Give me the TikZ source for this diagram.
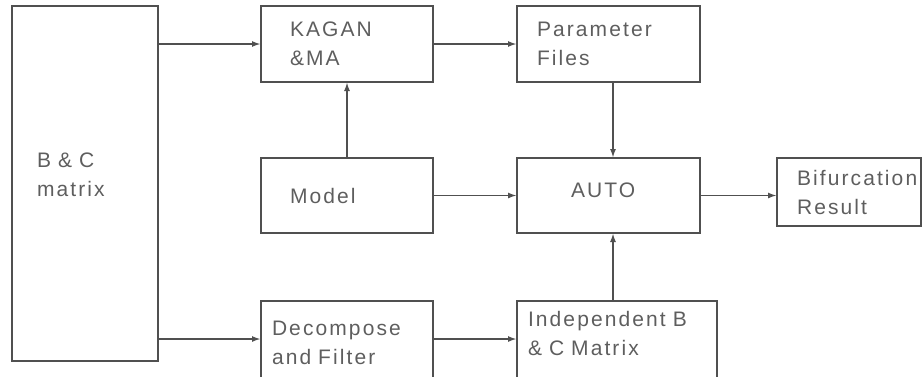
\documentclass[tikz,border=0pt]{standalone}
\usepackage{fontspec}
\setmainfont{Liberation Sans}[LetterSpace=10]
\usetikzlibrary{positioning,arrows.meta}
\definecolor{inkgray}{HTML}{505050}
\definecolor{textgray}{HTML}{5E5E5E}
\tikzset{>={Latex[length=9pt,width=6pt]}}
\hyphenpenalty=10000
\exhyphenpenalty=10000

\begin{document}
\begin{tikzpicture}[x=1pt, y=-1pt,
block/.style = {draw=inkgray, line width=1.4pt, rectangle,
                inner sep=0pt, outer sep=0pt,
                align=left, text=textgray,
                font=\fontsize{21}{29}\selectfont},
flow/.style = {->, draw=inkgray, line width=1.8pt},
upflow/.style = {flow, line width=2.6pt},
node distance = 84pt,
]
\useasboundingbox (0,0) rectangle (923,376);
\clip (0,0) rectangle (923,376);
        \node (bc)     [block, minimum width=146pt, minimum height=355pt,
                        text width=96pt, text depth=46pt] at (85,183.5)
                        {B \& C\\matrix};
        \node (kagan)  [block, minimum width=172pt, minimum height=76pt,
                        text width=114pt] at (347,44) {KAGAN\\\&MA};
        \node (param)  [block, minimum width=183pt, minimum height=76pt,
                        text width=143pt, right=of kagan] {Parameter\\Files};
        % middle row
        \node (model)  [block, minimum width=172pt, minimum height=75pt,
                        text width=114pt, below=76pt of kagan] {Model};
        \node (auto)   [block, minimum width=183pt, minimum height=75pt,
                        text width=75pt, text depth=11pt,
                        right=of model] {AUTO};
        \node (bif)    [block, minimum width=144pt, minimum height=68pt,
                        text width=104pt, right=77pt of auto,
                        yshift=3.5pt] {Bifurcation\\Result};
        % bottom row
        \node (decomp) [block, minimum width=172pt, minimum height=83pt,
                        text width=150pt, below=68pt of model]
                        {Decompose\\and Filter};
        \node (indep)  [block, minimum width=200pt, minimum height=83pt,
                        text width=178pt, text depth=46.5pt,
                        right=of decomp] {Independent B\\\& C Matrix};
        % connectors
        \draw[flow] (bc.east |- kagan.west) -- (kagan.west);
        \draw[flow] (kagan) -- (param);
        \draw[upflow] (model) -- (kagan);
        \draw[upflow] ([xshift=4.5pt]param.south) -- ([xshift=4.5pt]auto.north);
        \draw[flow] (model) -- (auto);
        \draw[flow] (auto.east) -- (auto.east -| bif.west);
        \draw[flow] ([yshift=3.5pt]bc.east |- decomp.west) -- ([yshift=3.5pt]decomp.west);
        \draw[flow] ([yshift=3.5pt]decomp.east) -- ([yshift=3.5pt]decomp.east -| indep.west);
        \draw[upflow] ([xshift=4.5pt]indep.north -| auto.south) -- ([xshift=4.5pt]auto.south);
\end{tikzpicture}
\end{document}
